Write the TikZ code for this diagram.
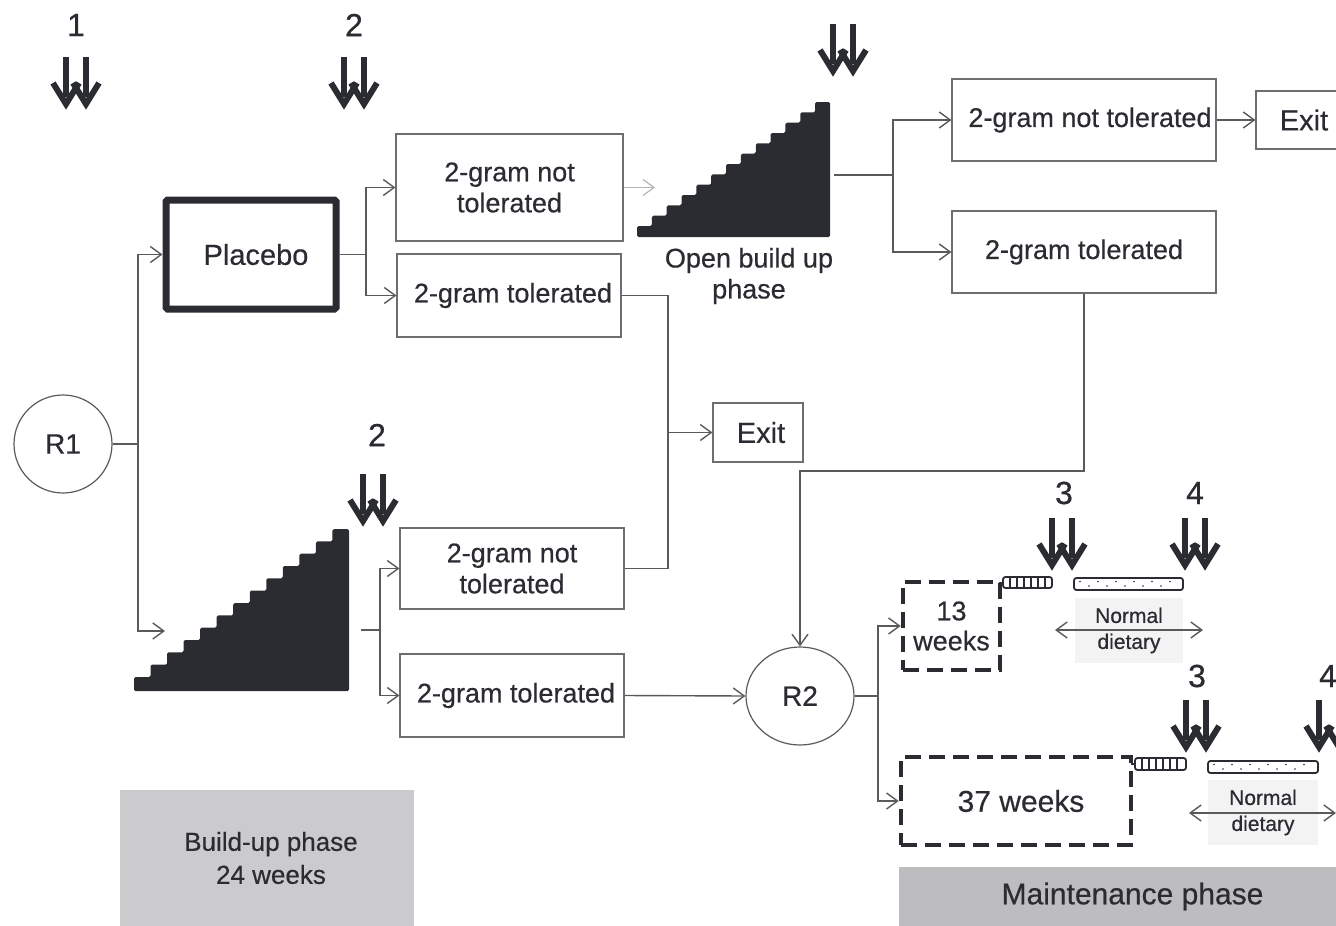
\documentclass[tikz,border=0pt]{standalone}
\usepackage{fontspec}
\setmainfont{Liberation Sans}[FakeBold=0.5]
\usetikzlibrary{arrows.meta,shapes.geometric}
\definecolor{ink}{HTML}{2A2C32}
\definecolor{lin}{HTML}{5A5A5C}
\definecolor{bord}{HTML}{6E6E70}
\definecolor{lgray}{HTML}{F3F3F3}
\definecolor{gbuild}{HTML}{CBCBCD}
\definecolor{gmaint}{HTML}{BDBDBF}
\tikzset{
  txt/.style={text=ink,font=\fontsize{27}{31}\selectfont,align=center,inner sep=0},
  bigtxt/.style={text=ink,font=\fontsize{29}{33}\selectfont,align=center,inner sep=0},
  numtxt/.style={text=ink,font=\fontsize{28}{32}\selectfont,inner sep=0},
  digtxt/.style={text=ink,font=\fontsize{32}{36}\selectfont,inner sep=0},
  gbox/.style={draw=bord,line width=1.1pt,rectangle,inner sep=0,text=ink,font=\fontsize{27}{31}\selectfont,align=center},
  wbox/.style={draw=ink,line width=4.5pt,dash pattern=on 16pt off 8pt,rectangle,inner sep=0,text=ink,align=center},
  conn/.style={draw=lin,line width=1.4pt},
  arr/.style={conn,-{Straight Barb[length=11pt,width=16pt,line width=1.4pt]}},
  larr/.style={draw=lin!45,line width=1.2pt,-{Straight Barb[length=11pt,width=16pt,line width=1.2pt]}},
  darr/.style={draw=lin,line width=1.4pt,{Straight Barb[length=11pt,width=16pt,line width=1.4pt]}-{Straight Barb[length=11pt,width=16pt,line width=1.4pt]}},
  ndbox/.style={fill=lgray,rectangle,inner sep=0,minimum width=108,minimum height=65,text=ink,font=\fontsize{21}{26}\selectfont,align=center},
  dblarr/.pic={
    \foreach \s in {-10,10}{
      \draw[ink,line width=6pt] (\s,0) -- (\s,40);
      \draw[ink,line width=6pt,line join=miter,miter limit=10] (\s-13,26) -- (\s,47) -- (\s+13,26);
    }
  }
}
\begin{document}
\begin{tikzpicture}[x=1pt,y=-1pt]
\useasboundingbox (0,0) rectangle (1336,926);
\clip (0,0) rectangle (1336,926);

% phase boxes
\node[fill=gbuild,minimum width=294,minimum height=136,inner sep=0,txt,font=\fontsize{26}{33}\selectfont] (bp) at (267,858) {\hspace*{8pt}Build-up phase\\\hspace*{8pt}24 weeks};
\node[fill=gmaint,minimum width=437,minimum height=59,inner sep=0,bigtxt,font=\fontsize{30}{34}\selectfont] (mp) at (1117.5,896.5) {\hspace*{30pt}Maintenance phase};

% numbers and arrows
\node[digtxt] (n1) at (76,25) {1};
\node[digtxt] (n2a) at (354,25) {2};
\node[digtxt] (n2b) at (377,435) {2};
\node[digtxt] (n3a) at (1064,493) {3};
\node[digtxt] (n4a) at (1195,493) {4};
\node[digtxt] (n3b) at (1197,676) {3};
\node[digtxt] (n4b) at (1328,676) {4};
\pic at (76,57) {dblarr};
\pic at (354,57) {dblarr};
\pic at (843,24) {dblarr};
\pic at (373,474) {dblarr};
\pic at (1062,518) {dblarr};
\pic at (1195,518) {dblarr};
\pic at (1196,700) {dblarr};
\pic at (1329,700) {dblarr};

% staircases
\fill[ink,rounded corners=1.5pt] (637,237) \foreach \i in {0,...,12}{ -- ({637+14.846*\i},{226-10.333*\i}) -- ({637+14.846*(\i+1)},{226-10.333*\i}) } -- (830,237) -- cycle;
\fill[ink,rounded corners=1.5pt] (134,691) \foreach \i in {0,...,12}{ -- ({134+16.54*\i},{677-12.33*\i}) -- ({134+16.54*(\i+1)},{677-12.33*\i}) } -- (349,691) -- cycle;
\node[txt] (obl) at (749,276) {Open build up\\phase};
\coordinate (st1in) at (655,187.5);
\coordinate (st1out) at (834,175);
\coordinate (st2in) at (165,631);
\coordinate (st2out) at (361,630);

% nodes
\node[circle,draw=lin,line width=1.2pt,minimum size=98,inner sep=0,numtxt] (R1) at (63,444) {R1};
\node[ellipse,draw=lin,line width=1.2pt,minimum width=108,minimum height=98,inner sep=0,numtxt] (R2) at (800,696) {R2};
\node[rectangle,draw=ink,line width=7pt,rounded corners=1.5pt,minimum width=170,minimum height=109,inner sep=0,bigtxt] (plac) at (251,254.5) {\hspace*{10pt}Placebo};
\node[gbox,minimum width=227,minimum height=107] (A) at (509.5,187.5) {2-gram not\\tolerated};
\node[gbox,minimum width=224,minimum height=83] (B) at (509,295.5) {\hspace*{8pt}2-gram tolerated};
\node[gbox,minimum width=264,minimum height=82] (C) at (1084,120) {\hspace*{12pt}2-gram not tolerated};
\node[gbox,minimum width=264,minimum height=82] (D) at (1084,252) {2-gram tolerated};
\node[gbox,minimum width=224,minimum height=81] (E) at (512,568.5) {2-gram not\\tolerated};
\node[gbox,minimum width=224,minimum height=83] (F) at (512,695.5) {\hspace*{8pt}2-gram tolerated};
\node[gbox,minimum width=90,minimum height=59,font=\fontsize{29}{33}\selectfont] (ExM) at (758,432.5) {\hspace*{6pt}Exit};
\node[gbox,minimum width=96,minimum height=58,font=\fontsize{29}{33}\selectfont] (ExT) at (1304,120) {Exit};
\node[wbox,minimum width=97,minimum height=88,font=\fontsize{27}{30}\selectfont] (w13) at (951.5,626) {13\\weeks};
\node[wbox,minimum width=230,minimum height=88,font=\fontsize{30}{34}\selectfont] (w37) at (1016,801) {\hspace*{10pt}37 weeks};

% bars
\draw[ink,line width=1.8pt,rounded corners=2.5pt] (1003,577) rectangle (1052,588);
\foreach \x in {1010,1017,...,1045} \draw[ink,line width=1.4pt] (\x,577) -- (\x,588);
\draw[ink,line width=1.8pt] (999,583) -- (1003,583);
\draw[ink,line width=1.8pt,rounded corners=2.5pt] (1074,578) rectangle (1183,590);
\foreach \x in {1080,1098,...,1178} \fill[ink] (\x,581.5) circle (0.9);
\foreach \x in {1089,1107,...,1178} \fill[ink] (\x,586) circle (0.9);
\draw[ink,line width=1.8pt,rounded corners=2.5pt] (1135,758) rectangle (1186,770);
\foreach \x in {1142,1149,...,1180} \draw[ink,line width=1.4pt] (\x,758) -- (\x,770);
\draw[ink,line width=1.8pt] (1131,764) -- (1135,764);
\draw[ink,line width=1.8pt,rounded corners=2.5pt] (1208,761) rectangle (1318,773);
\foreach \x in {1214,1232,...,1312} \fill[ink] (\x,764.5) circle (0.9);
\foreach \x in {1223,1241,...,1312} \fill[ink] (\x,769) circle (0.9);

% normal dietary
\node[ndbox] (nd1) at (1129,630.5) {Normal\\dietary};
\node[ndbox,minimum width=110] (nd2) at (1263,812.5) {Normal\\dietary};
\coordinate (nd1l) at (1055,630);
\coordinate (nd1r) at (1203,630);
\coordinate (nd2l) at (1189,813);
\coordinate (nd2r) at (1336,813);
\draw[darr] (nd1l) -- (nd1r);
\draw[darr] (nd2l) -- (nd2r);

% connectors
\coordinate (j1) at (138,444);
\coordinate (j2) at (366,254.5);
\coordinate (j3) at (893,175);
\coordinate (j4) at (800,471);
\coordinate (j6) at (668,432.5);
\coordinate (j7) at (380,630);
\coordinate (j8) at (878,696);
\draw[conn] (R1.east) -- (j1);
\draw[arr] (j1) |- (plac.west);
\draw[arr] (j1) |- (st2in);
\draw[conn] (plac.east) -- (j2);
\draw[arr] (j2) |- (A.west);
\draw[arr] (j2) |- (B.west);
\draw[larr] (A.east) -- (st1in);
\draw[conn] (st1out) -- (j3);
\draw[arr] (j3) |- (C.west);
\draw[arr] (j3) |- (D.west);
\draw[arr] (C.east) -- (ExT.west);
\draw[arr] (D.south) |- (j4) -- (R2.north);
\draw[conn] (B.east) -| (j6) |- (E.east);
\draw[arr] (j6) -- (ExM.west);
\draw[conn] (st2out) -- (j7);
\draw[arr] (j7) |- (E.west);
\draw[arr] (j7) |- (F.west);
\draw[arr] (F.east) -- (R2.west);
\draw[conn] (R2.east) -- (j8);
\draw[arr] (j8) |- (w13.west);
\draw[arr] (j8) |- (w37.west);
\end{tikzpicture}
\end{document}
